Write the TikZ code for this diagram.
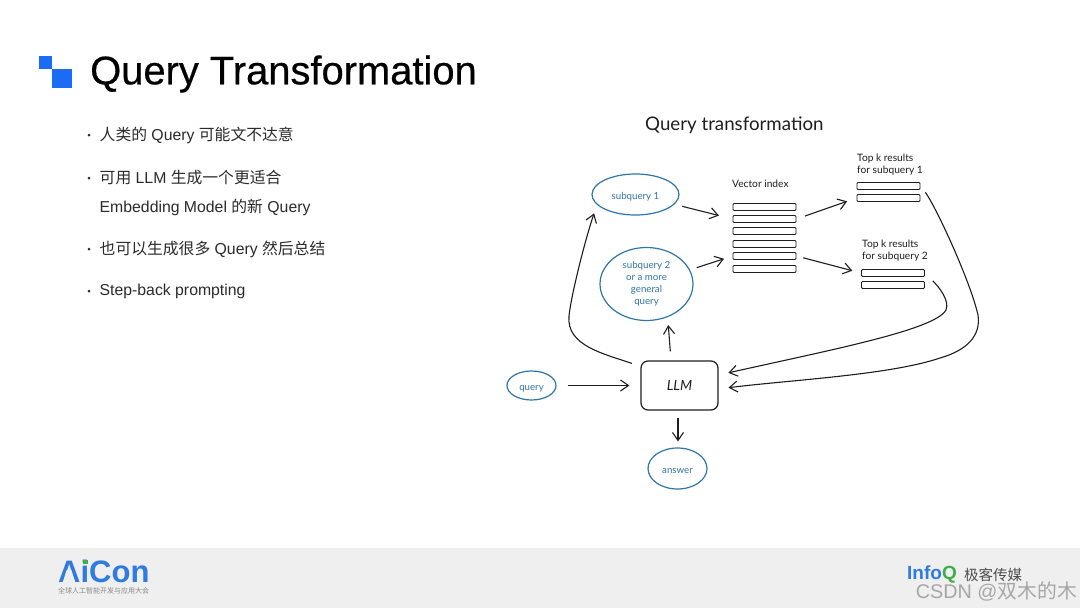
\documentclass[tikz,border=0pt]{standalone}
\usepackage{fontspec}
\setmainfont{Liberation Sans}
\newfontfamily\heavy[FakeBold=0.5]{Liberation Sans}
\newfontfamily\cjk{Noto Sans CJK SC}
\newfontfamily\sketch{Lato}
\usetikzlibrary{arrows.meta,positioning,shapes.geometric,calc}
\definecolor{slideblue}{HTML}{1A6CF5}
\definecolor{footgray}{HTML}{EFEFEF}
\definecolor{inkblack}{HTML}{1E1E1E}
\definecolor{inkblue}{HTML}{2F76A8}
\definecolor{bodygray}{HTML}{2B2B2B}
\definecolor{aiblue}{HTML}{2F7BE0}
\definecolor{aigreen}{HTML}{3FAE49}
\definecolor{markgray}{HTML}{8A8A8A}
\tikzset{
  bullettext/.style={font=\fontsize{15.8}{18}\selectfont,text=bodygray,anchor=west,inner sep=0pt},
  inkellipse/.style={ellipse,draw=inkblue,line width=1.2pt,inner sep=0pt,text=inkblue,
    font=\sketch\fontsize{9.7}{12}\selectfont},
  lowtext/.style={text height=9pt,text depth=0pt},
  barbox/.style={draw=inkblack,line width=0.9pt,rounded corners=1pt,inner sep=0pt,
    minimum width=63pt,minimum height=7pt},
  inklabel/.style={font=\sketch\fontsize{10.2}{12}\selectfont,text=inkblack,align=left,anchor=west,inner sep=0pt},
  flow/.style={draw=inkblack,line width=1.1pt,-{Straight Barb[length=8pt,width=11pt]}}
}
\begin{document}
\begin{tikzpicture}[x=1pt,y=-1pt]
  \useasboundingbox (0,0) rectangle (1080,608);

  % ---- Background / footer ------------------------------------
  \fill[white] (0,0) rectangle (1080,608);
  \fill[footgray] (0,548) rectangle (1080,608);

  % ============================================================
  %  LEFT SIDE: Title and bullet list
  % ============================================================
  \fill[slideblue] (39,56) rectangle (52,69);
  \fill[slideblue] (52,69) rectangle (72,88);
  \node[font=\heavy\fontsize{39.9}{44}\selectfont,text=black,anchor=west,inner sep=0pt] (title) at (90,74)
    {Query Transformation};

  \foreach \i/\ya in {1/135,2/178,3/249,4/291}
    \fill[bodygray] (89,\ya) circle (1.5);
  \node[bullettext] (itema) at (99.5,135) {{\cjk 人类的} Query {\cjk 可能文不达意}};
  \node[bullettext] (itemb) at (99.5,178) {{\cjk 可用} LLM {\cjk 生成一个更适合}};
  \node[bullettext] (itemc) at (99.5,207) {Embedding Model {\cjk 的新} Query};
  \node[bullettext] (itemd) at (99.5,249) {{\cjk 也可以生成很多} Query {\cjk 然后总结}};
  \node[bullettext] (iteme) at (99.5,291) {Step-back prompting};

  % ============================================================
  %  RIGHT SIDE: Sketch diagram
  % ============================================================
  \node[font=\sketch\fontsize{18.7}{20}\selectfont,text=inkblack,anchor=west,inner sep=0pt] (sketchtitle)
    at (645,125) {Query transformation};

  % Query ellipses
  \node[inkellipse,lowtext,minimum width=87pt,minimum height=41pt] (sub1) at (635.5,194.5) {subquery 1};
  \node[inkellipse,align=center,minimum width=93pt,minimum height=73pt] (sub2) at (646.5,284)
    {subquery 2\\or a more\\general\\query};
  \node[inkellipse,lowtext,minimum width=49pt,minimum height=29pt] (query) at (531.5,385.5) {query};
  \node[inkellipse,lowtext,minimum width=59pt,minimum height=41pt] (answer) at (677.5,468.5) {answer};

  % LLM box
  \node[draw=inkblack,line width=1.2pt,rounded corners=7pt,minimum width=77pt,minimum height=49pt,
    inner sep=0pt,text=inkblack,font=\sketch\itshape\fontsize{14}{16}\selectfont] (llm) at (679.5,385.5) {LLM};

  % Vector index
  \node[inklabel] (veclabel) at (732,184) {Vector index};
  \foreach \i/\ya in {1/207,2/219,3/231,4/244,5/256,6/269}
    \node[barbox] (vbar\i) at (764.5,\ya) {};

  % Top k results
  \node[inklabel] (res1label) at (857,164.5) {Top k results\\for subquery 1};
  \foreach \i/\ya in {1/186,2/198}
    \node[barbox] (res1bar\i) at (888.5,\ya) {};
  \node[inklabel] (res2label) at (862,251) {Top k results\\for subquery 2};
  \foreach \i/\ya in {1/273,2/285}
    \node[barbox] (res2bar\i) at (893,\ya) {};

  % Straight connectors
  \draw[flow,shorten <=8pt,shorten >=14pt] (sub1) -- (vbar2.west);
  \draw[flow,shorten <=7pt,shorten >=9pt] (sub2) -- (vbar5.west);
  \draw[flow,shorten <=9pt,shorten >=10pt] (vbar2.east) -- (res1bar2.west);
  \draw[flow,shorten <=7pt,shorten >=9pt] (vbar5.east) -- (res2bar1.west);
  \draw[flow,shorten <=11pt,shorten >=11pt] (query) -- (llm.west |- query);
  \draw[flow,shorten <=9pt,shorten >=4pt] (llm.north -| 671,0) -- (sub2.south -| 668,0);
  \draw[flow,shorten <=7pt,shorten >=6pt] (llm.south -| 678,0) -- (answer.north -| 678,0);

  % Curved connectors
  \draw[flow,shorten <=9pt,shorten >=9pt] (llm.154) .. controls (605,354) and (566,346) .. (569,316)
    .. controls (571,296) and (585,240) .. (sub1.195);
  \draw[flow,shorten <=8pt,shorten >=10pt] (res1bar1.east) .. controls (935,205) and (970,280) .. (978,315)
    .. controls (981,335) and (968,350) .. (940,358)
    .. controls (890,375) and (790,380) .. (llm.-5);
  \draw[flow,shorten <=11pt,shorten >=10pt] (res2bar1.east) .. controls (938,286) and (950,300) .. (946,310)
    .. controls (935,330) and (830,350) .. (llm.15);

  % ============================================================
  %  FOOTER: Logos and watermark
  % ============================================================
  \node[font=\bfseries\fontsize{31}{34}\selectfont,text=aiblue,anchor=west,inner sep=0pt] (aicon) at (58,571) {AiCon};
  % Open the A and colour the dot of the i
  \fill[footgray] (66.7,570) -- (71.3,570) -- (75.5,583) -- (62.5,583) -- cycle;
  \fill[aigreen] (83,559.5) rectangle (88,564);
  \node[font=\cjk\fontsize{7}{8}\selectfont,text=markgray,anchor=west,inner sep=0pt] (aiconsub) at (58,591)
    {全球人工智能开发与应用大会};
  \node[font=\bfseries\fontsize{19}{21}\selectfont,text=aiblue,anchor=west,inner sep=0pt] (infoq) at (907,574)
    {Info\textcolor{aigreen}{Q}};
  \node[font=\cjk\fontsize{14.5}{17}\selectfont,text=black!70,anchor=west,inner sep=0pt] (geekmedia) at (964,575)
    {极客传媒};
  \node[font=\fontsize{19.8}{22}\selectfont,text=black,opacity=0.3,anchor=east,inner sep=0pt] (watermark) at (1077,592)
    {CSDN @{\cjk 双木的木}};
\end{tikzpicture}
\end{document}
